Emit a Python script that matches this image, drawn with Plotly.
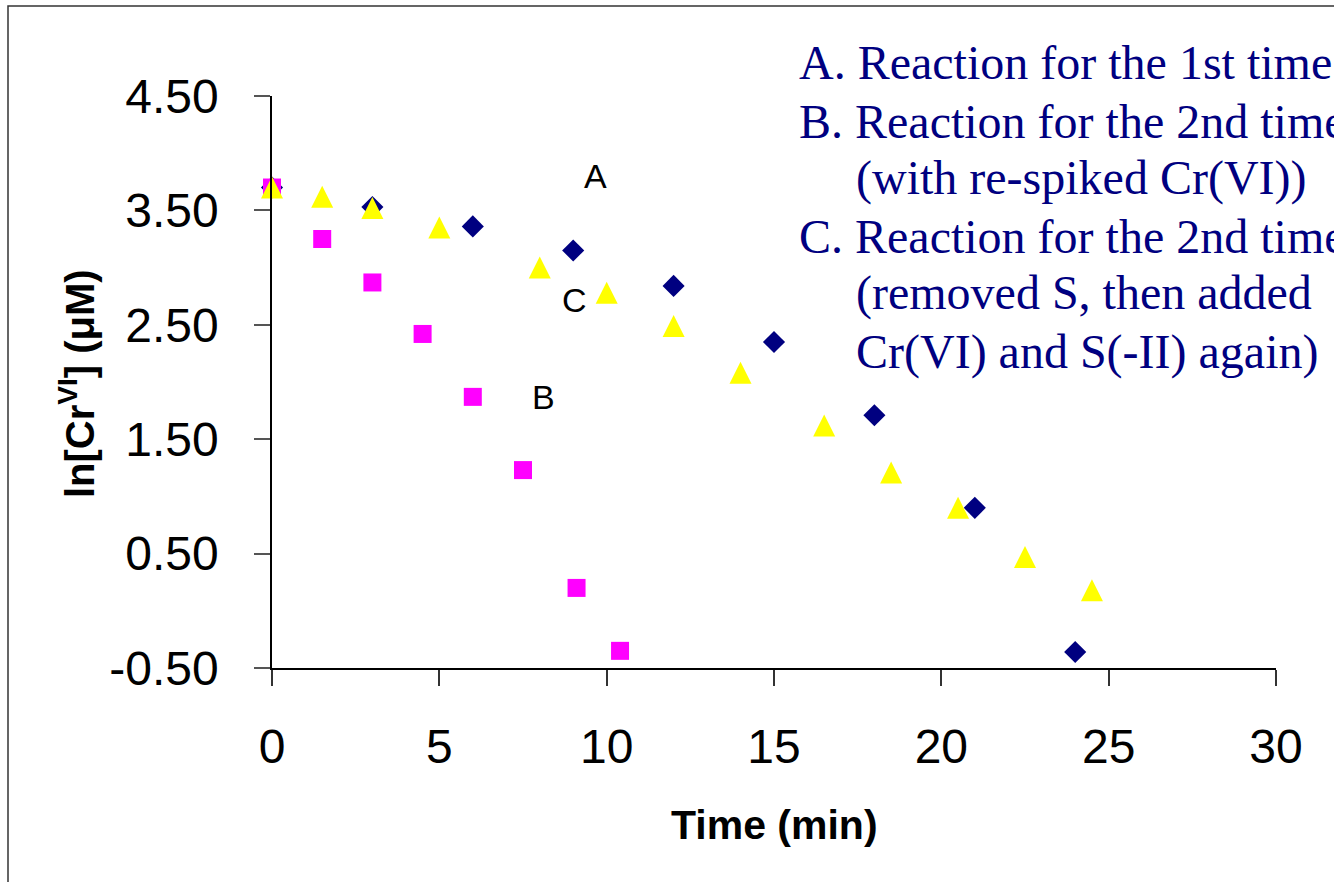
import plotly.graph_objects as go

# Series A: Reaction for the 1st time
time_a = [0, 3, 6, 9, 12, 15, 18, 21, 24]
ln_a = [3.70, 3.53, 3.36, 3.15, 2.84, 2.35, 1.71, 0.90, -0.36]

# Series B: Reaction for the 2nd time (with re-spiked Cr(VI))
time_b = [0, 1.5, 3, 4.5, 6, 7.5, 9.1, 10.4]
ln_b = [3.70, 3.25, 2.87, 2.42, 1.87, 1.23, 0.20, -0.35]

# Series C: Reaction for the 2nd time (removed S, then added Cr(VI) and S(-II) again)
time_c = [0, 1.5, 3, 5, 8, 10, 12, 14, 16.5, 18.5, 20.5, 22.5, 24.5]
ln_c = [3.70, 3.62, 3.52, 3.35, 3.00, 2.78, 2.49, 2.08, 1.62, 1.21, 0.90, 0.47, 0.18]

x_ticks = [0, 5, 10, 15, 20, 25, 30]
y_ticks = [-0.5, 0.5, 1.5, 2.5, 3.5, 4.5]

legend_lines = [
    ("A. Reaction for the 1st time", False),
    ("B. Reaction for the 2nd time", False),
    ("(with re-spiked Cr(VI))", True),
    ("C. Reaction for the 2nd time", False),
    ("(removed S, then added", True),
    ("Cr(VI) and S(-II) again)", True),
]

series_labels = [("A", 9.68, 3.80), ("C", 9.05, 2.72), ("B", 8.10, 1.87)]

W, H = 1334, 882
L, R, T, B = 272, 58, 96, 214
pw, ph = W - L - R, H - T - B


def px2paper_x(px):
    return (px - L) / pw


def px2paper_y(py):
    return (H - B - py) / ph


TRI = 22
fig = go.Figure()
fig.add_trace(go.Scatter(x=time_a, y=ln_a, mode="markers", name="A", cliponaxis=False,
                         marker=dict(symbol="diamond", size=17, color="#000080")))
fig.add_trace(go.Scatter(x=time_b, y=ln_b, mode="markers", name="B", cliponaxis=False,
                         marker=dict(symbol="square", size=18, color="#FF00FF")))
# upward triangle (as tall as wide), centred on the point
fig.add_trace(go.Scatter(x=time_c, y=ln_c, mode="markers", name="C", cliponaxis=False,
                         marker=dict(symbol="arrow-down", angle=180, standoff=TRI / 2,
                                     size=TRI, color="#FFFF00")))

annotations = []
line_centers = [63, 122, 178, 237, 293, 352]
for (txt, indent), cy in zip(legend_lines, line_centers):
    annotations.append(dict(
        text=txt, xref="paper", yref="paper",
        x=px2paper_x(854 if indent else 797), y=px2paper_y(cy),
        xanchor="left", yanchor="middle", showarrow=False,
        font=dict(family="Liberation Serif, Times New Roman, serif", size=48, color="#000080"),
    ))

for lab, lx, ly in series_labels:
    annotations.append(dict(
        text=lab, x=lx, y=ly, xref="x", yref="y", showarrow=False,
        xanchor="center", yanchor="middle",
        font=dict(family="Liberation Sans, Arial, sans-serif", size=34, color="black"),
    ))

# axis titles
annotations.append(dict(
    text="<b>Time (min)</b>", xref="paper", yref="paper",
    x=px2paper_x(774), y=px2paper_y(825), xanchor="center", yanchor="middle",
    showarrow=False,
    font=dict(family="Liberation Sans, Arial, sans-serif", size=41, color="black"),
))
annotations.append(dict(
    text="<b>ln[Cr<sup>VI</sup>] (μM)</b>", xref="paper", yref="paper",
    x=px2paper_x(77), y=px2paper_y(384), xanchor="center", yanchor="middle",
    textangle=-90, showarrow=False,
    font=dict(family="Liberation Sans, Arial, sans-serif", size=40, color="black"),
))

fig.update_layout(
    width=W, height=H,
    margin=dict(l=L, r=R, t=T, b=B),
    paper_bgcolor="white", plot_bgcolor="white",
    showlegend=False,
    annotations=annotations,
    shapes=[dict(type="rect", xref="paper", yref="paper",
                 x0=px2paper_x(8), x1=px2paper_x(1400),
                 y0=px2paper_y(950), y1=px2paper_y(6),
                 line=dict(color="#333333", width=1.5), fillcolor="rgba(0,0,0,0)")],
)

fig.update_xaxes(
    range=[0, 30], tickvals=x_ticks, ticktext=[str(v) for v in x_ticks],
    showline=True, linecolor="black", linewidth=1.5,
    ticks="outside", ticklen=16, tickcolor="#333", tickwidth=1.5,
    showgrid=False, zeroline=False,
    tickfont=dict(family="Liberation Sans, Arial, sans-serif", size=48, color="black"),
    ticklabelstandoff=20,
)
fig.update_yaxes(
    range=[-0.5, 4.5], tickvals=y_ticks, ticktext=[f"{v:.2f}" for v in y_ticks],
    showline=True, linecolor="black", linewidth=1.5,
    ticks="outside", ticklen=16, tickcolor="#555", tickwidth=1.5,
    showgrid=False, zeroline=False,
    tickfont=dict(family="Liberation Sans, Arial, sans-serif", size=48, color="black"),
    ticklabelstandoff=26,
)

fig.write_html("out.html")
